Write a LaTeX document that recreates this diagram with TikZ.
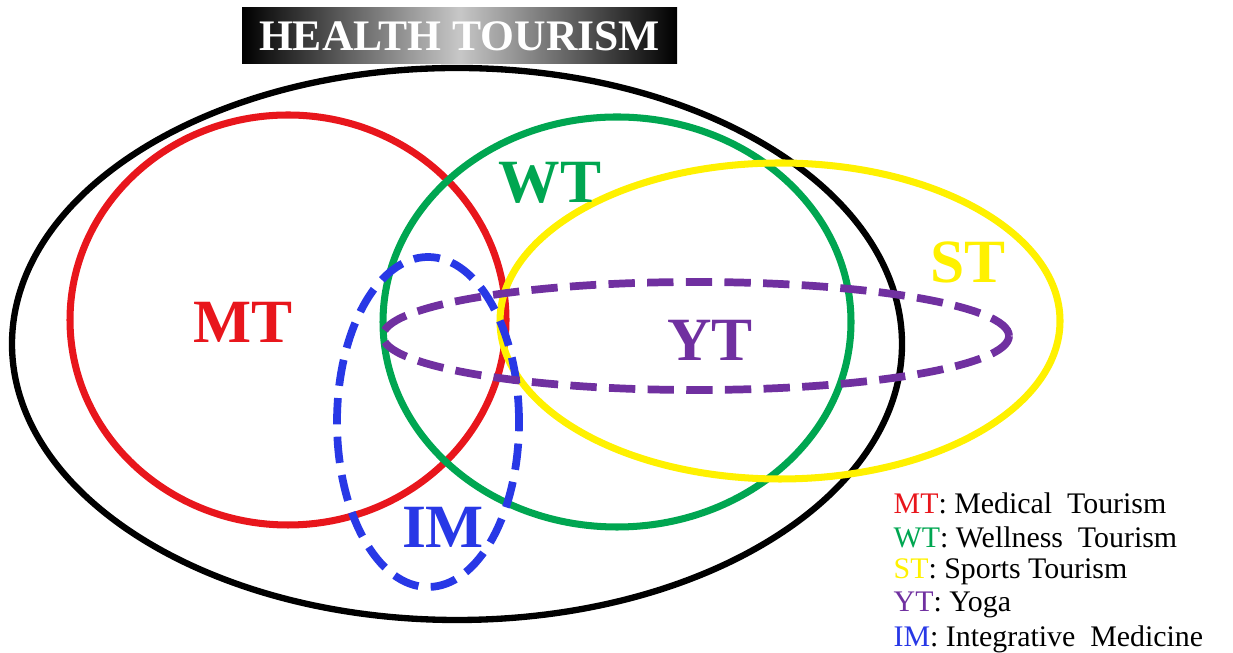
\documentclass[tikz,border=0pt]{standalone}
\usepackage{fontspec}
\setmainfont{Liberation Serif}
\usepackage{xcolor}
\usepackage{tikz}
\usetikzlibrary{shapes.geometric}

\definecolor{mtred}{RGB}{232,22,28}
\definecolor{wtgreen}{RGB}{0,166,81}
\definecolor{styellow}{RGB}{255,241,0}
\definecolor{ytpurple}{RGB}{112,48,160}
\definecolor{imblue}{RGB}{40,56,230}

\begin{document}
\begin{tikzpicture}[
  setline/.style={line width=2pt},
  dashline/.style={line width=2.2pt, dash pattern=on 7.5pt off 3.5pt},
  setlabel/.style={font=\fontsize{17.5}{18}\selectfont\bfseries},
  legendline/.style={anchor=west, inner sep=0pt, font=\fontsize{8.5}{9}\selectfont}]
\useasboundingbox (0,0) rectangle (12.33,6.53);

% Health tourism
\draw[line width=1.8pt] (4.57,3.09) ellipse (4.45 and 2.76);

% Sets
\draw[setline, mtred] (2.88,3.33) ellipse (2.18 and 2.05);
\draw[setline, wtgreen] (6.17,3.31) ellipse (2.34 and 2.05);
\draw[setline, styellow] (7.80,3.32) ellipse (2.80 and 1.58);
\draw[dashline, imblue] (4.28,2.31) ellipse (0.91 and 1.65);
\draw[dashline, ytpurple] (6.96,3.17) ellipse (3.13 and 0.54);

% Labels
\node[setlabel, mtred] (MT) at (2.43,3.31) {MT};
\node[setlabel, wtgreen] (WT) at (5.50,4.70) {WT};
\node[setlabel, styellow] (ST) at (9.68,3.91) {ST};
\node[setlabel, ytpurple] (YT) at (7.10,3.13) {YT};
\node[setlabel, imblue] (IM) at (4.43,1.26) {IM};

% Title
\node[left color=black, right color=black, middle color=white!78!black,
  minimum width=4.35cm, minimum height=0.56cm, inner sep=0pt,
  text=white, font=\fontsize{12.4}{13}\selectfont\bfseries] (title) at (4.595,6.17) {HEALTH TOURISM};

% Legend
\node[legendline] (lgMT) at (8.93,1.50) {\textcolor{mtred}{MT}: Medical\ \ Tourism};
\node[legendline] (lgWT) at (8.93,1.16) {\textcolor{wtgreen}{WT}: Wellness\ \ Tourism};
\node[legendline] (lgST) at (8.93,0.81) {\textcolor{styellow}{ST}: Sports Tourism};
\node[legendline] (lgYT) at (8.93,0.48) {\textcolor{ytpurple}{YT}: Yoga};
\node[legendline] (lgIM) at (8.93,0.14) {\textcolor{imblue}{IM}: Integrative\ \ Medicine};

\end{tikzpicture}
\end{document}
